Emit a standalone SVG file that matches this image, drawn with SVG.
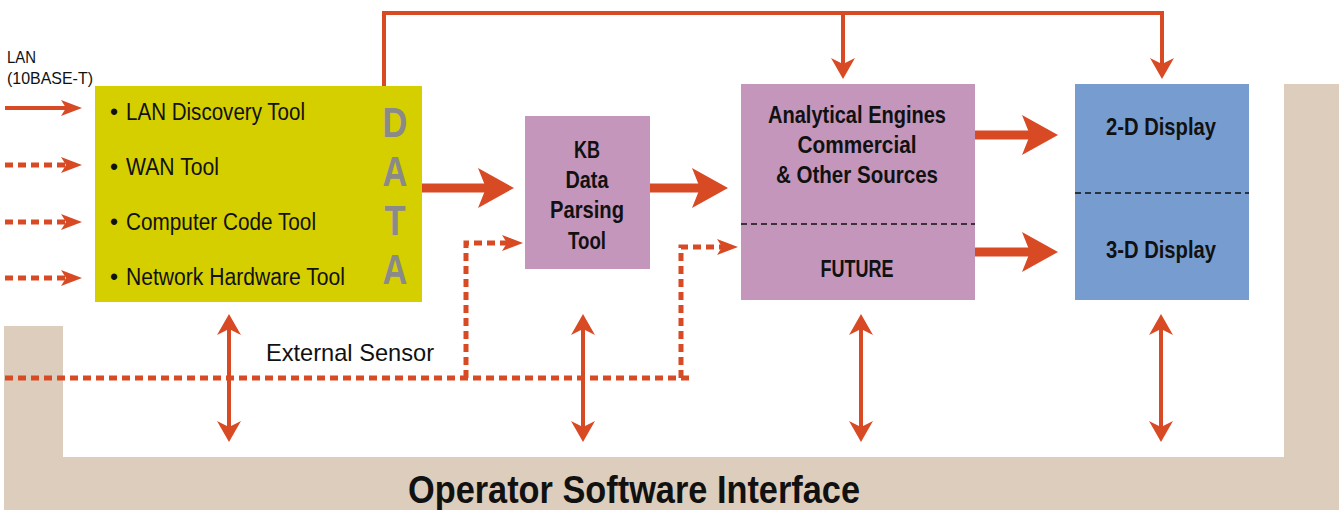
<svg xmlns="http://www.w3.org/2000/svg" width="1339" height="510" viewBox="0 0 1339 510">
<style>
.t{font-family:"Liberation Sans Narrow","Liberation Sans",Arial,sans-serif;fill:#111}
.item{font-size:23px}
.b{font-size:24px;font-weight:bold;text-anchor:middle}
.data{font-family:"Liberation Sans",Arial,sans-serif;font-size:42px;font-weight:bold;fill:#8a8a8a;text-anchor:middle}
.ln{fill:none;stroke:#d84a24;stroke-width:4}
.dash{fill:none;stroke:#d84a24;stroke-width:5;stroke-dasharray:8 5}
.big{fill:none;stroke:#d84a24;stroke-width:9}
.div{stroke:#111;stroke-width:1.6;stroke-dasharray:6 4}
.ah{fill:#d84a24}
</style>
<defs>
<marker id="sm" markerUnits="userSpaceOnUse" viewBox="-24 -10 26 20" refX="-12" refY="0" markerWidth="26" markerHeight="20" orient="auto"><path class="ah" d="M-21,-8 L0,0 L-21,8 L-16,0 Z"/></marker>
<marker id="md" markerUnits="userSpaceOnUse" viewBox="-24 -14 26 28" refX="-12" refY="0" markerWidth="26" markerHeight="28" orient="auto-start-reverse"><path class="ah" d="M-21,-12 L0,0 L-21,12 L-15,0 Z"/></marker>
<marker id="bg" markerUnits="userSpaceOnUse" viewBox="-40 -22 42 44" refX="-20" refY="0" markerWidth="42" markerHeight="44" orient="auto"><path class="ah" d="M-36,-20 L0,0 L-36,20 L-28,0 Z"/></marker>
</defs>
<rect width="1339" height="510" fill="#fff"/>
<g id="operator-interface">
<path d="M4,326 H63 V457 H1284 V84 H1339 V510 H4 Z" fill="#ddcdbc"/>
<text class="t" x="408" y="503" font-size="39" font-weight="bold" textLength="452" lengthAdjust="spacingAndGlyphs">Operator Software Interface</text>
</g>
<g id="lan-label">
<text class="t" x="7" y="63" font-size="17" textLength="29" lengthAdjust="spacingAndGlyphs">LAN</text>
<text class="t" x="7" y="84" font-size="17" textLength="86" lengthAdjust="spacingAndGlyphs">(10BASE-T)</text>
</g>
<g id="data-tools">
<rect x="95" y="86" width="327" height="216" fill="#d5cf00"/>
<text class="t item" x="114" y="120" text-anchor="middle">•</text>
<text class="t item" x="126" y="120" textLength="179" lengthAdjust="spacingAndGlyphs">LAN Discovery Tool</text>
<text class="t item" x="114" y="175" text-anchor="middle">•</text>
<text class="t item" x="126" y="175" textLength="93" lengthAdjust="spacingAndGlyphs">WAN Tool</text>
<text class="t item" x="114" y="230" text-anchor="middle">•</text>
<text class="t item" x="126" y="230" textLength="190" lengthAdjust="spacingAndGlyphs">Computer Code Tool</text>
<text class="t item" x="114" y="285" text-anchor="middle">•</text>
<text class="t item" x="126" y="285" textLength="219" lengthAdjust="spacingAndGlyphs">Network Hardware Tool</text>
<text class="data" transform="translate(395,0) scale(0.82,1)"><tspan x="0" y="137">D</tspan><tspan x="0" y="186">A</tspan><tspan x="0" y="235">T</tspan><tspan x="0" y="284">A</tspan></text>
</g>
<g id="kb-parsing">
<rect x="525" y="116" width="125" height="153" fill="#c496bb"/>
<text class="t b" x="587" y="158" textLength="26" lengthAdjust="spacingAndGlyphs">KB</text>
<text class="t b" x="587" y="188" textLength="43" lengthAdjust="spacingAndGlyphs">Data</text>
<text class="t b" x="587" y="218" textLength="74" lengthAdjust="spacingAndGlyphs">Parsing</text>
<text class="t b" x="587" y="249" textLength="38" lengthAdjust="spacingAndGlyphs">Tool</text>
</g>
<g id="analytical-engines">
<rect x="741" y="84" width="234" height="216" fill="#c496bb"/>
<line class="div" x1="741" y1="224" x2="975" y2="224"/>
<text class="t b" x="857" y="123" textLength="178" lengthAdjust="spacingAndGlyphs">Analytical Engines</text>
<text class="t b" x="857" y="153" textLength="119" lengthAdjust="spacingAndGlyphs">Commercial</text>
<text class="t b" x="857" y="183" textLength="162" lengthAdjust="spacingAndGlyphs">&amp; Other Sources</text>
<text class="t b" x="857" y="277" textLength="73" lengthAdjust="spacingAndGlyphs">FUTURE</text>
</g>
<g id="display">
<rect x="1075" y="84" width="174" height="216" fill="#779ccf"/>
<line class="div" x1="1075" y1="193" x2="1249" y2="193"/>
<text class="t b" x="1161" y="135" textLength="110" lengthAdjust="spacingAndGlyphs">2-D Display</text>
<text class="t b" x="1161" y="258" textLength="110" lengthAdjust="spacingAndGlyphs">3-D Display</text>
</g>
<g id="external-sensor">
<text class="t" x="266" y="361" font-size="24" textLength="168" lengthAdjust="spacingAndGlyphs">External Sensor</text>
</g>
<g id="connectors">
<path class="ln" d="M5,108 H70" marker-end="url(#sm)"/>
<path class="dash" d="M5,165 H70" marker-end="url(#sm)"/>
<path class="dash" d="M5,222 H70" marker-end="url(#sm)"/>
<path class="dash" d="M5,278 H70" marker-end="url(#sm)"/>
<path class="big" d="M422,188 H494" marker-end="url(#bg)"/>
<path class="big" d="M650,188 H708" marker-end="url(#bg)"/>
<path class="big" d="M975,135 H1038" marker-end="url(#bg)"/>
<path class="big" d="M975,252 H1038" marker-end="url(#bg)"/>
<path class="ln" d="M384,86 V13 H1162 V67" marker-end="url(#md)"/>
<path class="ln" d="M843,13 V67" marker-end="url(#md)"/>
<path class="dash" d="M5,378 H692"/>
<path class="dash" d="M466,378 V243 H511" marker-end="url(#sm)"/>
<path class="dash" d="M681,378 V247 H726" marker-end="url(#sm)"/>
<path class="ln" d="M229,326 V430" marker-start="url(#md)" marker-end="url(#md)"/>
<path class="ln" d="M583,326 V430" marker-start="url(#md)" marker-end="url(#md)"/>
<path class="ln" d="M861,326 V430" marker-start="url(#md)" marker-end="url(#md)"/>
<path class="ln" d="M1161,326 V430" marker-start="url(#md)" marker-end="url(#md)"/>
</g>
</svg>
